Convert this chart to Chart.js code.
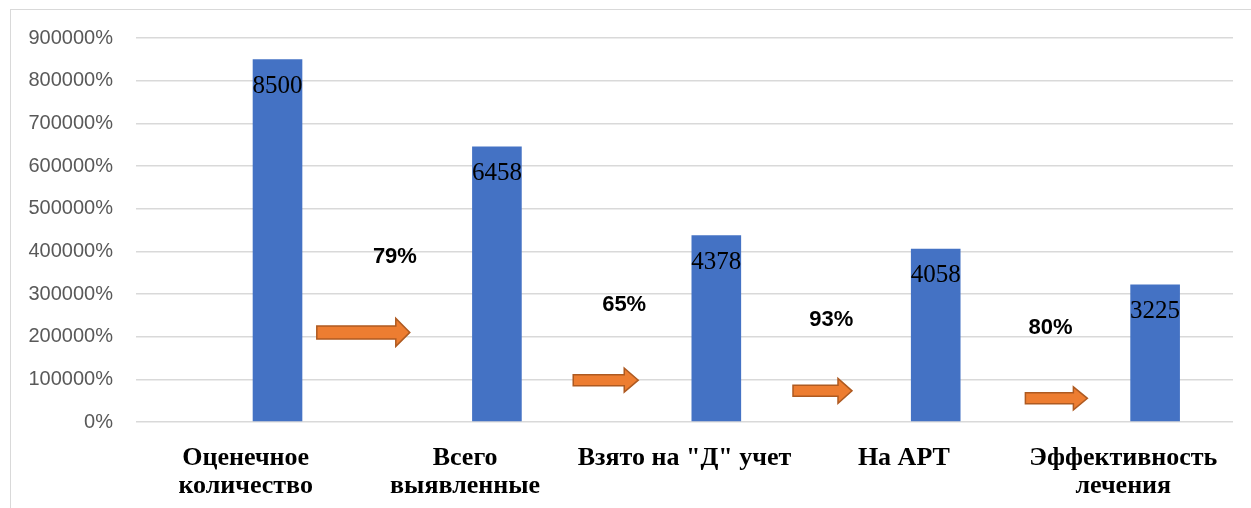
<!DOCTYPE html>
<html>
<head>
<meta charset="utf-8">
<script src="https://cdn.jsdelivr.net/npm/chart.js@4/dist/chart.umd.min.js"></script>
<style>
  html, body { margin: 0; padding: 0; background: #ffffff; overflow: hidden; }
  #wrap { position: relative; width: 1251px; height: 508px; }
  #frame { position: absolute; left: 10px; top: 9px; width: 1300px; height: 560px;
           border: 1px solid #d9d9d9; box-sizing: border-box; }
  #chart { position: absolute; left: 0; top: 0; }
</style>
</head>
<body>
<div id="wrap">
  <div id="frame"></div>
  <canvas id="chart" width="1251" height="508"></canvas>
</div>
<script>
// Cascade stages
const categories = [
  ['Оценечное', 'количество'],
  ['Всего', 'выявленные'],
  'Взято на "Д" учет',
  'На АРТ',
  ['Эффективность', 'лечения']
];
// Number of people at each stage
const counts = [8500, 6458, 4378, 4058, 3225];
// Transition rates between consecutive stages
const rates = ['79%', '65%', '93%', '80%'];
// Where each rate caption sits (stage index, value units)
const rateX = [0.68, 1.725, 2.669, 3.668];
const rateY = [3860, 2735, 2385, 2195];
// Where each transition arrow sits (stage index, value units)
const arrowX = [0.536, 1.641, 2.629, 3.695];
const arrowY = [2100, 980, 730, 555];
// Y tick values
const yTicks = [0, 1000, 2000, 3000, 4000, 5000, 6000, 7000, 8000, 9000];

const SANS = "'Liberation Sans', Arial, sans-serif";
const SERIF = "'Liberation Serif', 'Times New Roman', serif";

// Arrow glyph sizes [width, height, shaft height]
const arrowShapes = [[93, 28, 13], [65, 24, 11], [59, 25, 11], [62, 23, 11]];

function drawArrow(ctx, cx, cy, w, h, shaft) {
  const head = 14;
  const left = cx - w / 2;
  const right = cx + w / 2;
  const top = cy - h / 2;
  const sTop = cy - shaft / 2;
  const sBot = cy + shaft / 2;
  ctx.beginPath();
  ctx.moveTo(left, sTop);
  ctx.lineTo(right - head, sTop);
  ctx.lineTo(right - head, top);
  ctx.lineTo(right, cy);
  ctx.lineTo(right - head, top + h);
  ctx.lineTo(right - head, sBot);
  ctx.lineTo(left, sBot);
  ctx.closePath();
  ctx.fillStyle = '#ED7D31';
  ctx.fill();
  ctx.lineWidth = 1.5;
  ctx.strokeStyle = '#AE5A21';
  ctx.stroke();
}

// Draws the count inside the top of each bar, the transition arrows and rate captions
const labelPlugin = {
  id: 'stageLabels',
  afterDatasetsDraw(chart) {
    const ctx = chart.ctx;
    const xs = chart.scales.x;
    const ys = chart.scales.y;
    ctx.save();

    arrowX.forEach((v, i) => {
      const s = arrowShapes[i];
      drawArrow(ctx, xs.getPixelForValue(v), ys.getPixelForValue(arrowY[i]), s[0], s[1], s[2]);
    });

    ctx.textAlign = 'center';
    ctx.textBaseline = 'middle';
    ctx.fillStyle = '#000000';

    const barMeta = chart.getDatasetMeta(1);
    ctx.font = '25px ' + SERIF;
    barMeta.data.forEach((bar, i) => {
      ctx.fillText(String(counts[i]), bar.x, bar.y + 27);
    });

    ctx.font = 'bold 22px ' + SANS;
    rates.forEach((t, i) => {
      ctx.fillText(t, xs.getPixelForValue(rateX[i]), ys.getPixelForValue(rateY[i]));
    });
    ctx.restore();
  }
};

new Chart(document.getElementById('chart'), {
  type: 'bar',
  data: {
    labels: categories,
    datasets: [
      {
        // empty companion series keeps the left slot of each group
        data: categories.map(() => null),
        backgroundColor: 'rgba(0,0,0,0)'
      },
      {
        data: counts,
        backgroundColor: '#4472C4',
        borderWidth: 0
      }
    ]
  },
  options: {
    responsive: false,
    animation: false,
    events: [],
    categoryPercentage: 0.58,
    barPercentage: 0.78,
    layout: { padding: { top: 38, right: 18, left: 0, bottom: 0 } },
    plugins: {
      legend: { display: false },
      tooltip: { enabled: false }
    },
    scales: {
      x: {
        grid: { display: false, drawTicks: false },
        border: { display: false },
        ticks: {
          color: '#000000',
          padding: 22,
          maxRotation: 0,
          autoSkip: false,
          font: { family: SERIF, size: 26, weight: 'bold', lineHeight: '28px' }
        },
        afterFit(axis) { axis.height = 86; }
      },
      y: {
        min: 0,
        max: 9000,
        afterBuildTicks(axis) { axis.ticks = yTicks.map(v => ({ value: v })); },
        grid: { color: '#d9d9d9', lineWidth: 1.5, drawTicks: false },
        border: { display: false },
        ticks: {
          color: '#595959',
          padding: 23,
          font: { family: SANS, size: 20 },
          callback: v => (v * 100) + '%'
        },
        afterFit(axis) { axis.width = 136; }
      }
    }
  },
  plugins: [labelPlugin]
});
</script>
</body>
</html>
